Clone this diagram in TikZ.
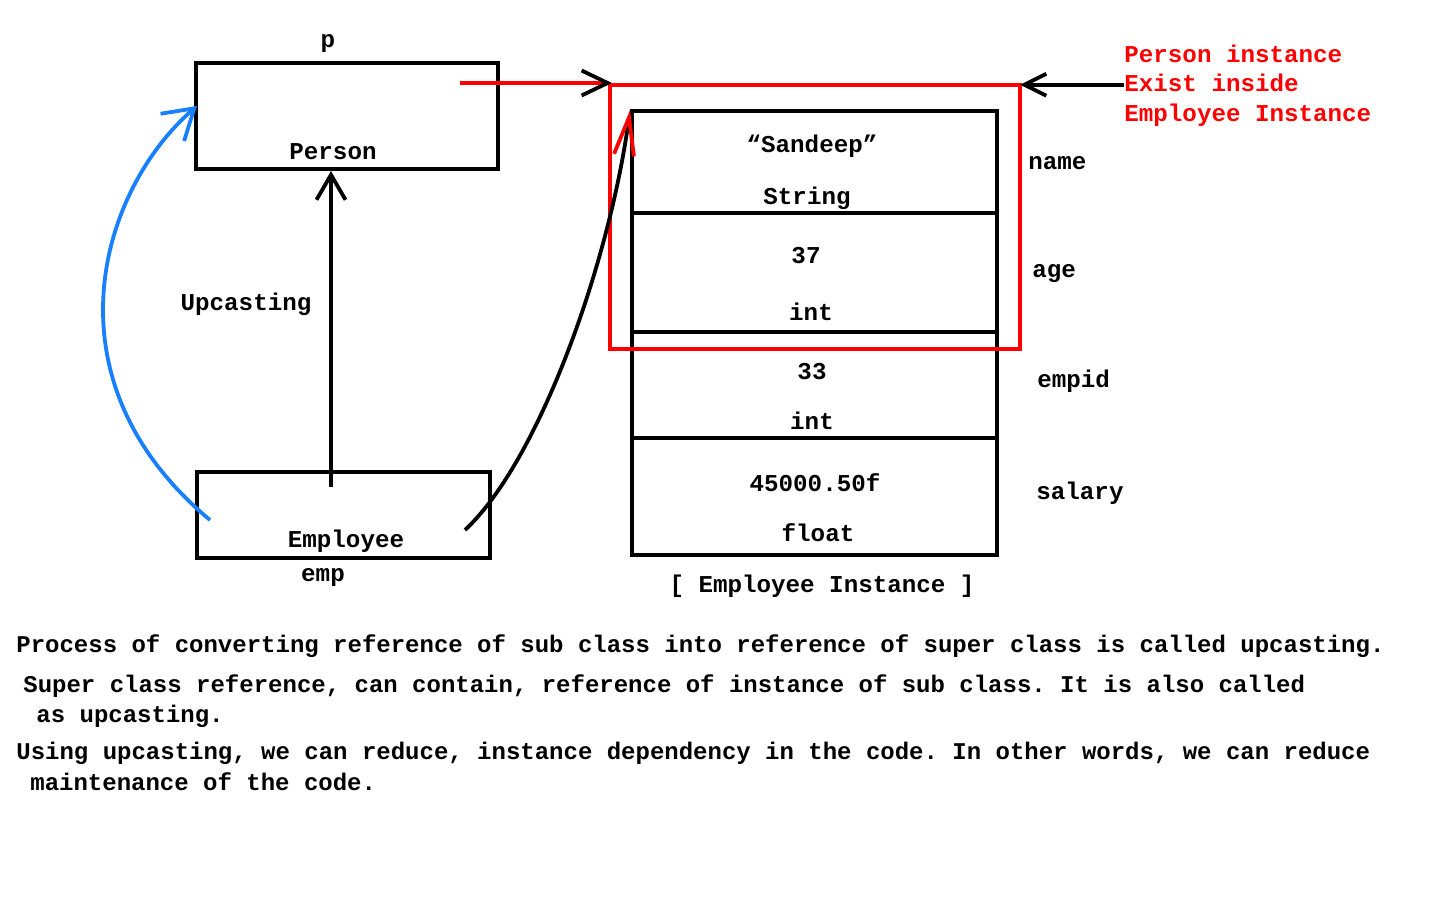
\documentclass[tikz,border=0pt]{standalone}
\usepackage{fontspec}
\setmainfont{Liberation Mono}
\usepackage{xcolor}
\definecolor{upblue}{RGB}{24,128,255}
\usetikzlibrary{arrows.meta}
\frenchspacing

\begin{document}
\begin{tikzpicture}[x=0.5pt, y=-0.5pt,
  lbl/.style={font=\bfseries\fontsize{12.1}{14}\selectfont, inner sep=0pt, anchor=base},
  fld/.style={lbl, anchor=base west},
  note/.style={font=\bfseries\fontsize{12}{14}\selectfont, inner sep=0pt, anchor=base west},
  box/.style={line width=2pt},
  conn/.style={line width=1.9pt}]
\useasboundingbox (0,0) rectangle (1440,900);

% reference variables
\draw[box] (196,63) rectangle (498,169);
\draw[box] (197,472) rectangle (490,558);
\node[lbl] (p) at (328,47) {p};
\node[lbl] (person) at (333,159) {Person};
\node[lbl] (employee) at (346,547) {Employee};
\node[lbl] (emp) at (323,581) {emp};
\node[lbl] (upcasting) at (246,310) {Upcasting};

% instance in memory
\foreach \ya/\yb [count=\i] in {111/213, 213/332, 332/438, 438/555}
  \draw[box] (632,\ya) rectangle (997,\yb) coordinate (row\i);
\foreach \x/\y/\txt [count=\i] in {812/152/{“Sandeep”}, 807/204/String, 806/263/37, 811/320/int,
  812/379/33, 812/429/int, 815/491/45000.50f, 818/541/float}
  \node[lbl] (val\i) at (\x,\y) {\txt};
\foreach \x/\y/\txt in {1028/169/name, 1032/277/age, 1037/387/empid, 1036/499/salary}
  \node[fld] (\txt) at (\x,\y) {\txt};
\node[lbl] (inst) at (822,592) {[ Employee Instance ]};

% person part
\draw[red, box] (610,85) coordinate (rb-nw) rectangle (1020,349);
\coordinate (rb-ne) at (1020,85);
\foreach \y/\txt [count=\i] in {62/Person instance, 91/Exist inside, 121/Employee Instance}
  \node[fld, text=red] (info\i) at (1124,\y) {\txt};

% connectors
\coordinate (up-start) at (331,487);
\coordinate (up-end) at (331,171);
\draw[conn, -{Straight Barb[length=12.5pt, width=14.5pt]}] (up-start) -- (up-end);
\coordinate (blue-start) at (210,520);
\coordinate (blue-end) at (197,106);
\draw[upblue, conn, -{Straight Barb[length=14.5pt, width=18pt]}] (blue-start) .. controls (42,380) and (100,190) .. (blue-end);
\coordinate (emp-ref) at (465,530);
\coordinate (row-top) at (630,110);
\draw[conn, -{Straight Barb[color=red, length=19pt, width=10pt]}] (emp-ref) .. controls (540,460) and (610,260) .. (row-top);
\coordinate (p-ref) at (460,83);
\draw[red, conn, -{Straight Barb[color=black, length=13pt, width=12.5pt]}] (p-ref) -- ([xshift=1pt]p-ref -| rb-nw);
\draw[conn, -{Straight Barb[length=11pt, width=11pt]}] ([yshift=-1.2pt]info2.west) -- ([yshift=-1.2pt]info2.west -| rb-ne);

% notes
\foreach \x/\y/\txt [count=\i] in {
  16/652/{Process of converting reference of sub class into reference of super class is called upcasting.},
  23/692/{Super class reference, can contain, reference of instance of sub class. It is also called},
  36/722/{as upcasting.},
  16/759/{Using upcasting, we can reduce, instance dependency in the code. In other words, we can reduce},
  30/790/{maintenance of the code.}}
  \node[note] (note\i) at (\x,\y) {\txt};
\end{tikzpicture}
\end{document}
